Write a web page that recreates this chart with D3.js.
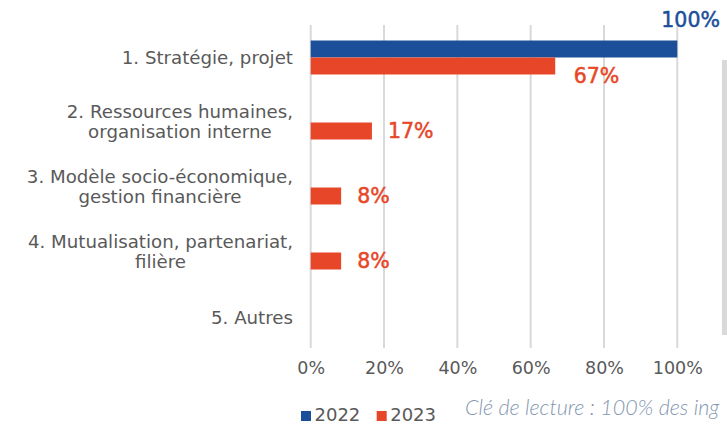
<!DOCTYPE html>
<html><head><meta charset="utf-8">
<script src="https://cdn.jsdelivr.net/npm/d3@7"></script>
<style>
html,body{margin:0;padding:0;background:#fff;overflow:hidden;}
svg{display:block;}
</style></head>
<body>
<svg id="chart" width="727" height="425"></svg>
<script>
const categories = [
  ["1. Stratégie, projet"],
  ["2. Ressources humaines,", "organisation interne"],
  ["3. Modèle socio-économique,", "gestion financière"],
  ["4. Mutualisation, partenariat,", "filière"],
  ["5. Autres"]
];
const seriesNames = ["2022", "2023"];
const values2022 = [100, null, null, null, null];
const values2023 = [66.7, 16.7, 8.3, 8.3, null];
const xTicks = [0, 20, 40, 60, 80, 100];
const colors = ["#1B4F9A", "#E84628"];
const noteText = "Clé de lecture : 100% des ing";

const FONT = "'DejaVu Sans', sans-serif";
const svg = d3.select("#chart");

const x = d3.scaleLinear().domain([0, 100]).range([310.7, 677.3]);
const y = d3.scaleBand().domain(d3.range(categories.length)).range([25, 350])
  .paddingInner(0.477).paddingOuter(0.2385);
const ys = d3.scaleBand().domain(seriesNames).range([0, y.bandwidth()]);

// gridlines
svg.append("g").selectAll("line").data(xTicks).join("line")
  .attr("x1", d => x(d)).attr("x2", d => x(d))
  .attr("y1", 25).attr("y2", 348)
  .attr("stroke", "#d9d9d9").attr("stroke-width", 2);

// x axis labels
const xAxis = d3.axisBottom(x).tickValues(xTicks).tickFormat(d => d + "%").tickSize(0).tickPadding(0);
const gx = svg.append("g").attr("transform", "translate(0,362)").call(xAxis);
gx.select(".domain").remove();
gx.selectAll("text").attr("font-family", FONT).attr("font-size", 17.5).attr("fill", "#595959").attr("dy", "0.71em");

// bars
const series = [values2022, values2023];
series.forEach((vals, si) => {
  const g = svg.append("g");
  const data = vals.map((v, i) => ({v, i})).filter(d => d.v != null);
  g.selectAll("rect").data(data).join("rect")
    .attr("x", x(0))
    .attr("y", d => y(d.i) + ys(seriesNames[si]))
    .attr("width", d => x(d.v) - x(0))
    .attr("height", ys.bandwidth())
    .attr("fill", colors[si]);
});

// data labels
const labG = svg.append("g").attr("font-family", FONT).attr("font-size", 20.5);
values2022.forEach((v, i) => {
  if (v == null) return;
  labG.append("text")
    .attr("x", x(v) - 16).attr("y", y(i) + ys("2022") + ys.bandwidth() / 2 - 29.5)
    .attr("dy", "0.36em").attr("fill", colors[0]).attr("stroke", colors[0]).attr("stroke-width", 0.5)
    .text(Math.round(v) + "%");
});
values2023.forEach((v, i) => {
  if (v == null) return;
  const nudge = (values2022[i] != null) ? 10 : 0;
  const gap = (values2022[i] != null) ? 18.5 : 16;
  labG.append("text")
    .attr("x", x(v) + gap).attr("y", y(i) + ys("2023") + ys.bandwidth() / 2 + nudge)
    .attr("dy", "0.36em").attr("fill", colors[1]).attr("stroke", colors[1]).attr("stroke-width", 0.5)
    .text(Math.round(v) + "%");
});

// category labels
const catG = svg.append("g").attr("font-family", FONT).attr("font-size", 18.2).attr("fill", "#595959");
categories.forEach((lines, i) => {
  const cy = y(i) + y.bandwidth() / 2 - (lines.length > 1 ? 1 : 0);
  const t = catG.append("text").attr("text-anchor", "middle");
  const lh = 20;
  lines.forEach((ln, k) => {
    t.append("tspan").attr("x", 0)
      .attr("y", cy + (k - (lines.length - 1) / 2) * lh)
      .attr("dy", "0.36em").text(ln);
  });
  const w = d3.max(t.selectAll("tspan").nodes(), n => n.getComputedTextLength());
  t.selectAll("tspan").attr("x", 293 - w / 2);
});

// legend
const leg = svg.append("g").attr("font-family", FONT).attr("font-size", 18).attr("fill", "#595959");
const legX = [301, 376.7];
seriesNames.forEach((s, i) => {
  leg.append("rect").attr("x", legX[i]).attr("y", 411).attr("width", 10).attr("height", 10).attr("fill", colors[i]);
  leg.append("text").attr("x", legX[i] + 13.5).attr("y", 421).text(s);
});

// reading note
svg.append("text").attr("x", 465).attr("y", 415)
  .attr("font-family", "Lato, sans-serif").attr("font-style", "italic").attr("font-weight", 300)
  .attr("font-size", 21.5).attr("fill", "#8497B0").text(noteText);

// side panel edge
svg.append("rect").attr("x", 722).attr("y", 60).attr("width", 5).attr("height", 275).attr("fill", "#d9d9d9");
</script>
</body></html>
